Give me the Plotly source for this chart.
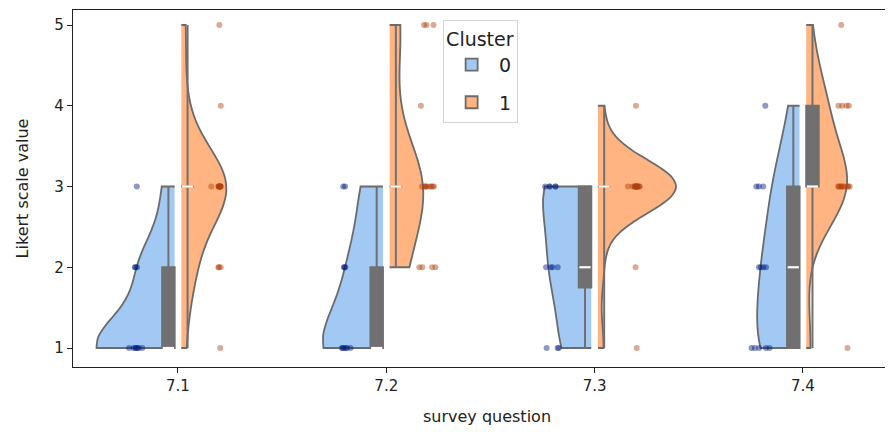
import numpy as np
import plotly.graph_objects as go

# ---- data (Likert answers) ----
questions = ["7.1", "7.2", "7.3", "7.4"]
cluster_names = ["0", "1"]

c0_q71 = [1, 1, 1, 1, 1, 1, 1, 2, 2, 2, 3]
c0_q72 = [1, 1, 1, 1, 1, 1, 2, 2, 2, 3, 3]
c0_q73 = [1, 1, 1, 2, 2, 2, 2, 3, 3, 3, 3, 3]
c0_q74 = [1, 1, 1, 1, 1, 2, 2, 2, 2, 3, 3, 3, 4]

c1_q71 = [1, 2, 2, 2, 3, 3, 3, 3, 3, 3, 3, 3, 3, 3, 3, 4, 5]
c1_q72 = [2, 2, 2, 2, 3, 3, 3, 3, 3, 3, 3, 3, 3, 4, 5, 5, 5]
c1_q73 = [1, 2, 3, 3, 3, 3, 3, 3, 3, 3, 3, 3, 3, 3, 3, 3, 4]
c1_q74 = [1, 3, 3, 3, 3, 3, 3, 3, 3, 3, 4, 4, 4, 4, 5]

cluster0 = [c0_q71, c0_q72, c0_q73, c0_q74]
cluster1 = [c1_q71, c1_q72, c1_q73, c1_q74]

y_ticks = [1, 2, 3, 4, 5]

# ---- styling ----
fill_cols = ["#a1c9f4", "#ffb482"]
dot_cols = ["#001c7f", "#b1400d"]
edge = "#6b6b6b"
box_col = "#707070"
sides = ["negative", "positive"]
sign = [-1, 1]
GAP = 0.016
BOX_OFF = 0.046
BOX_W = 0.06
STRIP_OFF = 0.2
FULL_W = 0.75


def scott_bw(vals):
    v = np.asarray(vals, dtype=float)
    return float(np.std(v, ddof=1) * len(v) ** (-0.2))


def kde_max(vals):
    v = np.asarray(vals, dtype=float)
    bw = scott_bw(vals)
    grid = np.linspace(v.min(), v.max(), 400)
    dens = np.exp(-0.5 * ((grid[:, None] - v[None, :]) / bw) ** 2).sum(1)
    dens /= len(v) * bw * np.sqrt(2 * np.pi)
    return dens.max()


fig = go.Figure()
groups = [cluster0, cluster1]

# violins (area normalised within each cluster, like seaborn)
for h, grp in enumerate(groups):
    peaks = [kde_max(v) for v in grp]
    top = max(peaks)
    for i, vals in enumerate(grp):
        fig.add_trace(go.Violin(
            x0=i + sign[h] * GAP, y=vals, side=sides[h],
            width=FULL_W * peaks[i] / top, bandwidth=scott_bw(vals),
            spanmode="hard", scalemode="width",
            fillcolor=fill_cols[h], opacity=1,
            line=dict(color=edge, width=1.8),
            points=False, box_visible=False, meanline_visible=False,
            name=cluster_names[h], legendgroup=cluster_names[h],
            showlegend=(i == 0), hoverinfo="skip",
        ))

# inner boxes
for h, grp in enumerate(groups):
    pos, q1s, meds, q3s, los, his = [], [], [], [], [], []
    for i, vals in enumerate(grp):
        q1, med, q3 = np.percentile(vals, [25, 50, 75])
        pos.append(i + sign[h] * BOX_OFF)
        q1s.append(q1); meds.append(med); q3s.append(q3)
        los.append(min(vals)); his.append(max(vals))
    fig.add_trace(go.Box(
        x=pos, q1=q1s, median=meds, q3=q3s, lowerfence=los, upperfence=his,
        width=BOX_W, fillcolor=box_col, line=dict(color=box_col, width=2),
        whiskerwidth=0, boxpoints=False, showlegend=False, hoverinfo="skip",
    ))
    fig.add_trace(go.Scatter(
        x=pos, y=meds, mode="markers",
        marker=dict(symbol="line-ew", size=8, line=dict(color="white", width=2.2)),
        showlegend=False, hoverinfo="skip",
    ))

# strip points
for h, grp in enumerate(groups):
    for i, vals in enumerate(grp):
        fig.add_trace(go.Box(
            y=vals, x0=i + sign[h] * STRIP_OFF, width=0.11,
            boxpoints="all", jitter=1, pointpos=0,
            fillcolor="rgba(0,0,0,0)", line=dict(width=0, color="rgba(0,0,0,0)"),
            marker=dict(color=dot_cols[h], size=6, opacity=0.45),
            showlegend=False, hoveron="points",
        ))

fig.update_layout(
    width=893, height=432,
    margin=dict(l=65, r=0, t=2, b=73),
    paper_bgcolor="white", plot_bgcolor="white",
    violinmode="overlay", boxmode="overlay",
    font=dict(family="DejaVu Sans", size=15, color="#222222"),
    legend=dict(
        title=dict(text="Cluster", font=dict(size=19)),
        x=0.447, y=0.972, xanchor="left", yanchor="top",
        bgcolor="white", bordercolor="#d5d5d5", borderwidth=1,
        font=dict(size=19), itemwidth=45,
    ),
    xaxis=dict(
        range=[-0.504, 3.471], tickmode="array",
        tickvals=list(range(len(questions))), ticktext=questions,
        showline=True, linecolor="#222222", linewidth=1.2, mirror=True,
        ticks="outside", ticklen=5, tickcolor="#222222",
        tickfont=dict(size=15),
        showgrid=False, zeroline=False, automargin=False,
        title=dict(text="survey question", font=dict(size=16), standoff=16),
    ),
    yaxis=dict(
        range=[0.765, 5.186], tickmode="array", tickvals=y_ticks,
        showline=True, linecolor="#222222", linewidth=1.2, mirror=False,
        ticks="outside", ticklen=5, tickcolor="#222222",
        tickfont=dict(size=15),
        showgrid=False, zeroline=False, automargin=False,
        title=dict(text="Likert scale value", font=dict(size=16), standoff=21),
    ),
)

fig.write_html("out.html")
